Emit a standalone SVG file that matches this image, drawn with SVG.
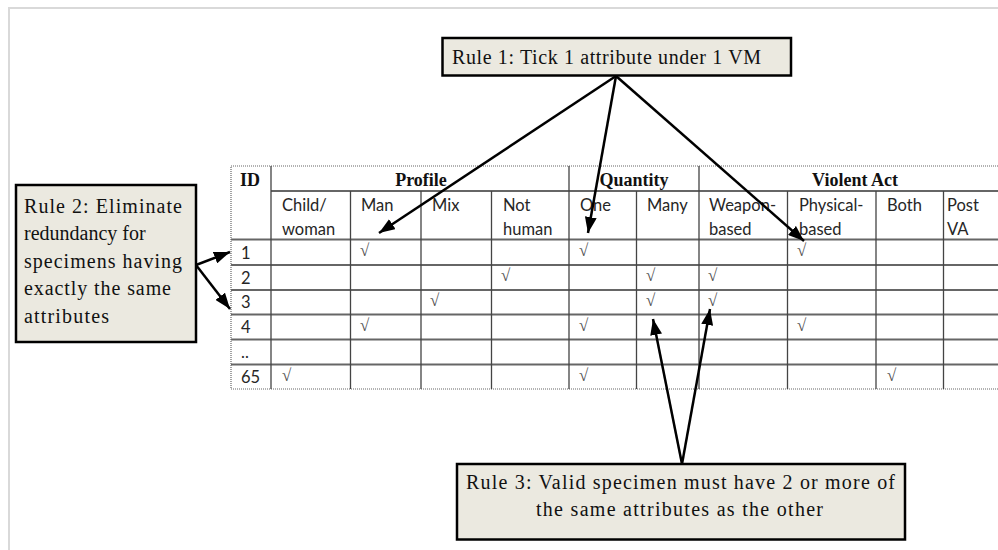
<svg xmlns="http://www.w3.org/2000/svg" width="998" height="550" viewBox="0 0 998 550">
  <defs>
    <marker id="ah" viewBox="0 0 16 12" refX="16" refY="6" markerWidth="16" markerHeight="12" markerUnits="userSpaceOnUse" orient="auto">
      <path d="M0,0 L16,6 L0,12 Z" fill="#000"/>
    </marker>
    <style>
      .box { fill: #ebe9e0; stroke: #000; stroke-width: 2.5; }
      .rt { font-family: "Liberation Serif", "Times New Roman", serif; font-size: 20px; fill: #111; }
      .hd { font-family: "Liberation Serif", "Times New Roman", serif; font-size: 18px; font-weight: bold; fill: #111; }
      .sb { font-family: Lato, "Liberation Sans", sans-serif; font-size: 16.5px; fill: #262626; }
      .ck { font-family: "Liberation Serif", "DejaVu Serif", serif; font-size: 17px; fill: #555; }
      .hl { stroke: #666; stroke-width: 2; fill: none; }
      .vl { stroke: #444; stroke-width: 1.3; fill: none; }
      .dot { stroke: #666; stroke-width: 1.2; stroke-dasharray: 1 1; fill: none; }
      .conn { stroke: #000; stroke-width: 2.5; fill: none; marker-end: url(#ah); }
    </style>
  </defs>
  <rect width="998" height="550" fill="#fff"/>
  <path d="M9,550 L9,8 L998,8" fill="none" stroke="#d9d9d9" stroke-width="2"/>

  <g id="table">
    <path class="dot" d="M998,166 L231,166 L231,389 L998,389"/>
    <path class="hl" d="M271,191 L998,191 M231,239.5 L998,239.5 M231,265 L998,265 M231,290 L998,290 M231,314.5 L998,314.5 M231,339.5 L998,339.5 M231,364.5 L998,364.5"/>
    <path class="vl" d="M271,166 L271,389 M569,166 L569,389 M699,166 L699,389 M350.5,191 L350.5,389 M421,191 L421,389 M491.5,191 L491.5,389 M636.5,191 L636.5,389 M787.5,191 L787.5,389 M876,191 L876,389 M943.5,191 L943.5,389"/>
    <text class="hd" x="240" y="186">ID</text>
    <text class="hd" x="421" y="186" text-anchor="middle">Profile</text>
    <text class="hd" x="634" y="186" text-anchor="middle">Quantity</text>
    <text class="hd" x="855" y="186" text-anchor="middle">Violent Act</text>
    <text class="sb" x="282" y="211">Child/</text>
    <text class="sb" x="282" y="234.5">woman</text>
    <text class="sb" x="361" y="211">Man</text>
    <text class="sb" x="432" y="211">Mix</text>
    <text class="sb" x="503" y="211">Not</text>
    <text class="sb" x="503" y="234.5">human</text>
    <text class="sb" x="580" y="211">One</text>
    <text class="sb" x="647" y="211">Many</text>
    <text class="sb" x="709" y="211">Weapon-</text>
    <text class="sb" x="709" y="234.5">based</text>
    <text class="sb" x="799" y="211">Physical-</text>
    <text class="sb" x="799" y="234.5">based</text>
    <text class="sb" x="887" y="211">Both</text>
    <text class="sb" x="947" y="211">Post</text>
    <text class="sb" x="947" y="234.5">VA</text>
    <text class="sb" x="241" y="259">1</text>
    <text class="sb" x="241" y="283.5">2</text>
    <text class="sb" x="241" y="308">3</text>
    <text class="sb" x="241" y="333">4</text>
    <text class="sb" x="241" y="358">..</text>
    <text class="sb" x="241" y="383">65</text>
    <text class="ck" x="360" y="256">√</text>
    <text class="ck" x="579" y="256">√</text>
    <text class="ck" x="797" y="256">√</text>
    <text class="ck" x="501" y="281">√</text>
    <text class="ck" x="646" y="281">√</text>
    <text class="ck" x="708" y="281">√</text>
    <text class="ck" x="430" y="306">√</text>
    <text class="ck" x="646" y="306">√</text>
    <text class="ck" x="708" y="306">√</text>
    <text class="ck" x="360" y="331">√</text>
    <text class="ck" x="579" y="331">√</text>
    <text class="ck" x="797" y="331">√</text>
    <text class="ck" x="282" y="381">√</text>
    <text class="ck" x="579" y="381">√</text>
    <text class="ck" x="887" y="381">√</text>
  </g>

  <g id="rule1">
    <rect class="box" x="442.5" y="38" width="348.5" height="37.5"/>
    <text class="rt" x="452" y="63.5" textLength="309" lengthAdjust="spacing">Rule 1: Tick 1 attribute under 1 VM</text>
  </g>

  <g id="rule2">
    <rect class="box" x="16" y="185" width="180" height="157"/>
    <text class="rt" x="24" y="213" textLength="158" lengthAdjust="spacing">Rule 2: Eliminate</text>
    <text class="rt" x="24" y="240">redundancy for</text>
    <text class="rt" x="24" y="267.5" textLength="158" lengthAdjust="spacing">specimens having</text>
    <text class="rt" x="24" y="295" textLength="147" lengthAdjust="spacing">exactly the same</text>
    <text class="rt" x="24" y="322.5" textLength="85" lengthAdjust="spacing">attributes</text>
  </g>

  <g id="rule3">
    <rect class="box" x="457" y="464" width="448" height="75.5"/>
    <text class="rt" x="466" y="489" textLength="429" lengthAdjust="spacing">Rule 3: Valid specimen must have 2 or more of</text>
    <text class="rt" x="536" y="516" textLength="287" lengthAdjust="spacing">the same attributes as the other</text>
  </g>

  <g id="connectors">
    <line class="conn" x1="616" y1="76" x2="379" y2="233"/>
    <line class="conn" x1="616" y1="76" x2="588" y2="233"/>
    <line class="conn" x1="616" y1="76" x2="804" y2="241"/>
    <line class="conn" x1="196" y1="265" x2="230" y2="252"/>
    <line class="conn" x1="196" y1="265" x2="230" y2="309"/>
    <line class="conn" x1="682" y1="464" x2="653" y2="319"/>
    <line class="conn" x1="682" y1="464" x2="710" y2="309"/>
  </g>
</svg>
